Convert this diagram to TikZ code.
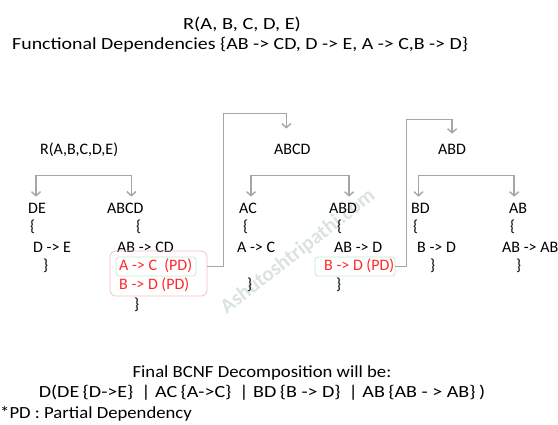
\documentclass[tikz,border=0pt]{standalone}
\usepackage{fontspec}
\setmainfont{Carlito}
\usetikzlibrary{arrows.meta}
\definecolor{linegray}{RGB}{166,166,166}
\definecolor{pdred}{RGB}{255,40,40}
\definecolor{pinkline}{RGB}{246,190,200}
\definecolor{greenline}{RGB}{196,232,208}
\definecolor{markgray}{RGB}{218,228,222}

\begin{document}
\begin{tikzpicture}[x=1pt,y=-1pt,
    lbl/.style={anchor=west,inner sep=0pt,font=\fontsize{16}{19}\selectfont},
    head/.style={inner sep=0pt,font=\fontsize{17}{20}\selectfont},
    pd/.style={lbl,text=pdred},
    link/.style={draw=linegray,line width=1.4pt,-{Straight Barb[length=4pt,width=9pt]}},
    split/.style={draw=linegray,line width=1.4pt,{Straight Barb[length=4pt,width=9pt]}-{Straight Barb[length=4pt,width=9pt]}},
    pdbox/.style={draw=pinkline,line width=0.8pt,rounded corners=6pt,inner sep=0pt},
    okbox/.style={draw=greenline,line width=0.8pt,rounded corners=3pt,inner sep=0pt}]
\useasboundingbox (0,0) rectangle (558,424);
\node (mark) [rotate=38,text=markgray,font=\fontsize{21}{24}\selectfont\bfseries] at (298,252) {Ashutoshtripathi.com};
\node (title) [head,xscale=1.2] at (242,24) {R(A, B, C, D, E)};
\node (fds) [head,xscale=1.17,anchor=west] at (12,45) {Functional Dependencies \{AB -> CD, D -> E, A -> C,B -> D\}};
\node (r) [lbl] at (40,150) {R(A,B,C,D,E)};
% first split
\node (de) [lbl] at (28,208) {DE};
\node (deo) [lbl] at (30,227) {\{};
\node (defd) [lbl] at (33,247) {D -> E};
\node (dec) [lbl] at (43,266) {\}};
\node (abcd) [lbl] at (107,208) {ABCD};
\node (abcdo) [lbl] at (136,227) {\{};
\node (abcdfd) [lbl] at (117,247) {AB -> CD};
\node (pdall) [pdbox,minimum width=97pt,minimum height=45pt] at (158.5,273.5) {};
\node (okac) [okbox,minimum width=80pt,minimum height=19pt] at (156,266.5) {};
\node (pdac) [pd] at (119,266) {A -> C\ \ (PD)};
\node (pdbd) [pd] at (119,285) {B -> D (PD)};
\node (abcdc) [lbl] at (134,305) {\}};
% second split
\node (abcdt) [lbl] at (274,149) {ABCD};
\node (ac) [lbl] at (239,208) {AC};
\node (aco) [lbl] at (243,227) {\{};
\node (acfd) [lbl] at (237,247) {A -> C};
\node (acc) [lbl] at (247,285) {\}};
\node (abd) [lbl] at (329,208) {ABD};
\node (abdo) [lbl] at (337,227) {\{};
\node (abdfd) [lbl] at (334,247) {AB -> D};
\node (okbd) [okbox,minimum width=80pt,minimum height=19pt] at (355,266.5) {};
\node (pdbd2) [pd] at (324,266) {B -> D (PD)};
\node (abdc) [lbl] at (336,285) {\}};
% third split
\node (abdt) [lbl] at (438,149) {ABD};
\node (bd) [lbl] at (411,208) {BD};
\node (bdo) [lbl] at (413,227) {\{};
\node (bdfd) [lbl] at (417,247) {B -> D};
\node (bdc) [lbl] at (430,266) {\}};
\node (ab) [lbl] at (509,208) {AB};
\node (abo) [lbl] at (510,227) {\{};
\node (abfd) [lbl] at (502,247) {AB -> AB};
\node (abc) [lbl] at (516,266) {\}};
% result
\node (final) [head,xscale=1.1] at (262,373) {Final BCNF Decomposition will be:};
\node (result) [head,xscale=1.18] at (262,393) {D(DE\,\{D->E\}\, | AC\,\{A->C\}\, | BD\,\{B -> D\}\, | AB\,\{AB - > AB\}\,)};
\node (note) [head,xscale=1.1,anchor=west] at (0,414) {*PD : Partial Dependency};
\draw[split] ([xshift=-1pt,yshift=6pt]de.north) -- ++(0,-21) -| ([xshift=6pt,yshift=6pt]abcd.north);
\draw[split] ([xshift=3pt,yshift=6pt]ac.north) -- ++(0,-21) -| ([xshift=6pt,yshift=6pt]abd.north);
\draw[split] ([xshift=-2pt,yshift=6pt]bd.north) -- ++(0,-21) -| ([xshift=-4pt,yshift=6pt]ab.north);
\draw[link] (pdall.east |- okac.east) -- ++(16,0) -- ++(0,-153) -| ([xshift=-6pt,yshift=15pt]abcdt.north);
\draw[link] (okbd.east) -- ++(11,0) -- ++(0,-147) -| ([yshift=10pt]abdt.north);
\end{tikzpicture}
\end{document}
